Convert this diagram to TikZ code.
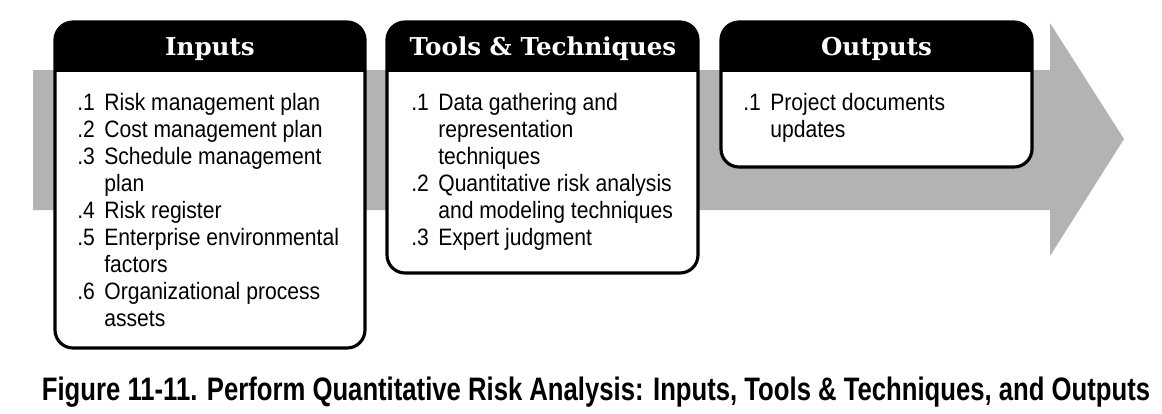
\documentclass[tikz,border=0pt]{standalone}
\usepackage{fontspec}
\setmainfont{Liberation Sans}
\newfontfamily\headfont{DejaVu Serif}
\newfontfamily\bodyfont[FakeStretch=0.89]{Liberation Sans}
\newfontfamily\capfont[FakeStretch=0.79]{Liberation Sans}
\definecolor{arrowgray}{RGB}{178,179,181}
\newcommand{\itemlist}[1]{\begin{tabular}{@{}p{0.54cm}@{}l@{}}#1\end{tabular}}
\tikzset{
  boxline/.style={line width=1.8pt,rounded corners=0.36cm},
  headtxt/.style={text=white,font=\headfont\bfseries\fontsize{14}{16}\selectfont},
  listtxt/.style={anchor=north west,inner sep=0pt,font=\bodyfont\fontsize{13.5}{15.37}\selectfont}
}
\begin{document}
\begin{tikzpicture}[x=0.02cm,y=-0.02cm]
    \useasboundingbox (0,0) rectangle (1162,413);
    % big gray arrow behind the boxes
    \fill[arrowgray] (33,70) -- (1050,70) -- (1050,23) -- (1124,139) -- (1050,256)
        -- (1050,210) -- (33,210) -- cycle;
    % the three boxes
    \foreach \l/\r/\b in {55/365/348, 387/698/273, 721/1032/167}
        {\begin{scope}
            \clip[rounded corners=0.36cm] (\l,22) rectangle (\r,\b);
            \fill[white] (\l,22) rectangle (\r,\b);
            \fill[black] (\l,22) rectangle (\r,72);
         \end{scope}
         \draw[boxline] (\l,22) rectangle (\r,\b);
        }
    \node[headtxt] (inhead) at (210,49) {Inputs};
    \node[headtxt] (toolhead) at (543,49) {Tools \& Techniques};
    \node[headtxt] (outhead) at (876.5,49) {Outputs};
    \node[listtxt] (inlist) at (77,91) {\itemlist{
        .1 & Risk management plan \\
        .2 & Cost management plan \\
        .3 & Schedule management \\
           & plan \\
        .4 & Risk register \\
        .5 & Enterprise environmental \\
           & factors \\
        .6 & Organizational process \\
           & assets}};
    \node[listtxt] (toollist) at (411,91) {\itemlist{
        .1 & Data gathering and \\
           & representation \\
           & techniques \\
        .2 & Quantitative risk analysis \\
           & and modeling techniques \\
        .3 & Expert judgment}};
    \node[listtxt] (outlist) at (743,91) {\itemlist{
        .1 & Project documents \\
           & updates}};
    \node[anchor=base,inner sep=0pt,font=\capfont\bfseries\fontsize{18.5}{20}\selectfont] (caption) at (596,400)
        {Figure 11-11. Perform Quantitative Risk Analysis: Inputs, Tools \& Techniques, and Outputs};
\end{tikzpicture}
\end{document}
